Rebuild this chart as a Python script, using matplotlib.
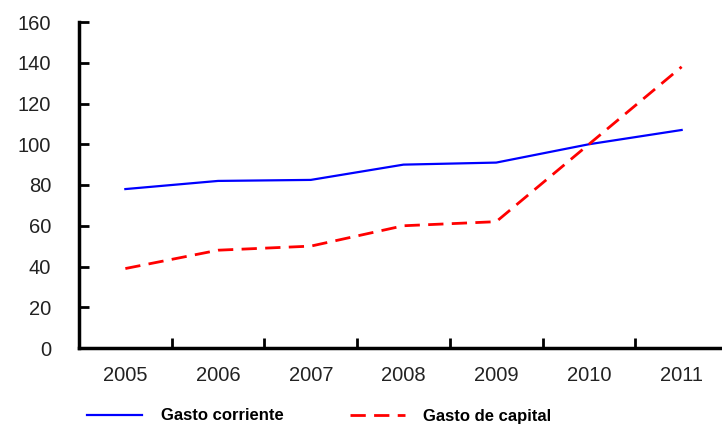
import matplotlib
matplotlib.use("Agg")
import matplotlib.pyplot as plt
import numpy as np

plt.rcParams["font.family"] = ["Liberation Sans", "DejaVu Sans"]

years = ["2005", "2006", "2007", "2008", "2009", "2010", "2011"]
gasto_corriente = [78, 82, 82.5, 90, 91, 100, 107]
gasto_capital = [39, 48, 50, 60, 62, 100, 138]

fig = plt.figure(figsize=(7.22, 4.28), dpi=100)
ax = fig.add_axes([79 / 722, 1 - 348 / 428, 649 / 722, 326 / 428])

x = np.arange(len(years))
ax.plot(x, gasto_corriente, color="#0000ff", lw=1.6, label="Gasto corriente")
ax.plot(x, gasto_capital, color="#ff0000", lw=2.0, dashes=(5.5, 3),
        label="Gasto de capital")

ax.set_xlim(-0.5, len(years) - 0.5)
ax.set_ylim(0, 160)
ax.set_yticks(range(0, 161, 20))
ax.set_xticks(x)
ax.set_xticklabels(years)
ax.set_xticks(x[:-1] + 0.5, minor=True)

for side in ("top", "right"):
    ax.spines[side].set_visible(False)
for side in ("left", "bottom"):
    ax.spines[side].set_linewidth(2.5)
    ax.spines[side].set_color("black")

ax.tick_params(axis="y", direction="in", length=7, width=2, labelsize=14.5,
               pad=20, labelcolor="#222222")
ax.tick_params(axis="x", which="major", length=0, labelsize=14.5, pad=13,
               labelcolor="#222222")
ax.tick_params(axis="x", which="minor", direction="in", length=7, width=2)

fig.legend(loc="center left", bbox_to_anchor=(0.1, 12 / 428), ncol=2,
           frameon=False, handlelength=3.3, columnspacing=4.0,
           handletextpad=1.1, prop={"weight": "bold", "size": 12})

fig.savefig("out.png", dpi=100)
